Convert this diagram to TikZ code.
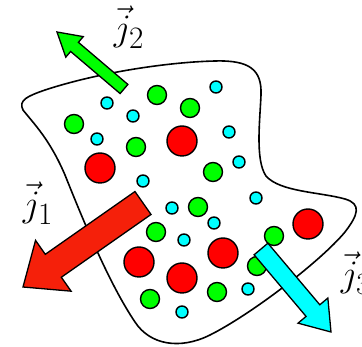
\documentclass[tikz,border=0pt]{standalone}
\usepackage{amsmath,amssymb}
\usepackage{tikz}
\usetikzlibrary{calc}

\definecolor{ballred}{RGB}{255,0,0}
\definecolor{ballgreen}{RGB}{0,255,0}
\definecolor{ballcyan}{RGB}{0,255,255}
\definecolor{arrowred}{RGB}{245,32,10}

\tikzset{
  ball/.style={draw=black, line width=1.4pt},
  blockarrow/.style={draw=black, line width=1.3pt, line join=miter},
  jlabel/.style={inner sep=0pt, font=\Huge, scale=1.5}
}

% tail, tip, half shaft, half head, head length
\newcommand{\blockarr}[6]{%
  \coordinate (ba-base) at ($(#3)!#6pt!(#2)$);
  \filldraw[blockarrow, fill=#1]
    ($(#2)!#4pt!90:(#3)$) -- ($(ba-base)!#4pt!-90:(#2)$) --
    ($(ba-base)!#5pt!-90:(#2)$) -- (#3) --
    ($(ba-base)!#5pt!90:(#2)$) -- ($(ba-base)!#4pt!90:(#2)$) --
    ($(#2)!#4pt!-90:(#3)$) -- cycle;
}

\begin{document}
\begin{tikzpicture}[x=1pt,y=-1pt]
\useasboundingbox (0,0) rectangle (362,347);

\draw[line width=1.6pt] (23,110) .. controls (18,100) and (28,96) .. (45,90)
  .. controls (100,72) and (170,62) .. (215,61)
  .. controls (250,60) and (262,70) .. (261,95)
  .. controls (260,120) and (255,160) .. (266,176)
  .. controls (280,192) and (320,192) .. (345,199)
  .. controls (362,204) and (358,215) .. (345,232)
  .. controls (320,262) and (250,315) .. (210,335)
  .. controls (180,350) and (150,345) .. (135,322)
  .. controls (110,285) and (85,225) .. (65,175)
  .. controls (50,140) and (35,125) .. (23,110) -- cycle;

\foreach \x/\y in {100/168, 182/141, 139/262, 182/278, 223/253, 308/224}
  \filldraw[ball, fill=ballred] (\x,\y) circle (15);
\foreach \x/\y in {157/95, 74/124, 136/147, 190/108, 213/172, 156/232,
                   198/207, 274/236, 257/266, 217/292, 150/299}
  \filldraw[ball, fill=ballgreen] (\x,\y) circle (9.5);
\foreach \x/\y in {107/103, 133/116, 97/139, 216/87, 229/132, 239/162, 143/181,
                   172/208, 214/223, 184/240, 256/198, 248/289, 182/312}
  \filldraw[ball, fill=ballcyan] (\x,\y) circle (6);

\coordinate (tail2) at (124,89);
\coordinate (tip2) at (57,32);
\coordinate (tail1) at (143,203);
\coordinate (tip1) at (23,287);
\coordinate (tail3) at (261,249);
\coordinate (tip3) at (331,332);

\blockarr{ballgreen}{tail2}{tip2}{6}{13.5}{23}
\blockarr{arrowred}{tail1}{tip1}{14}{31}{37}
\blockarr{ballcyan}{tail3}{tip3}{9}{19.5}{28}

\node[jlabel] (j2) at (129,27) {$\vec{j}_2$};
\node[jlabel] (j1) at (38,203) {$\vec{j}_1$};
\node[jlabel] (j3) at (356,273) {$\vec{j}_3$};
\end{tikzpicture}
\end{document}
